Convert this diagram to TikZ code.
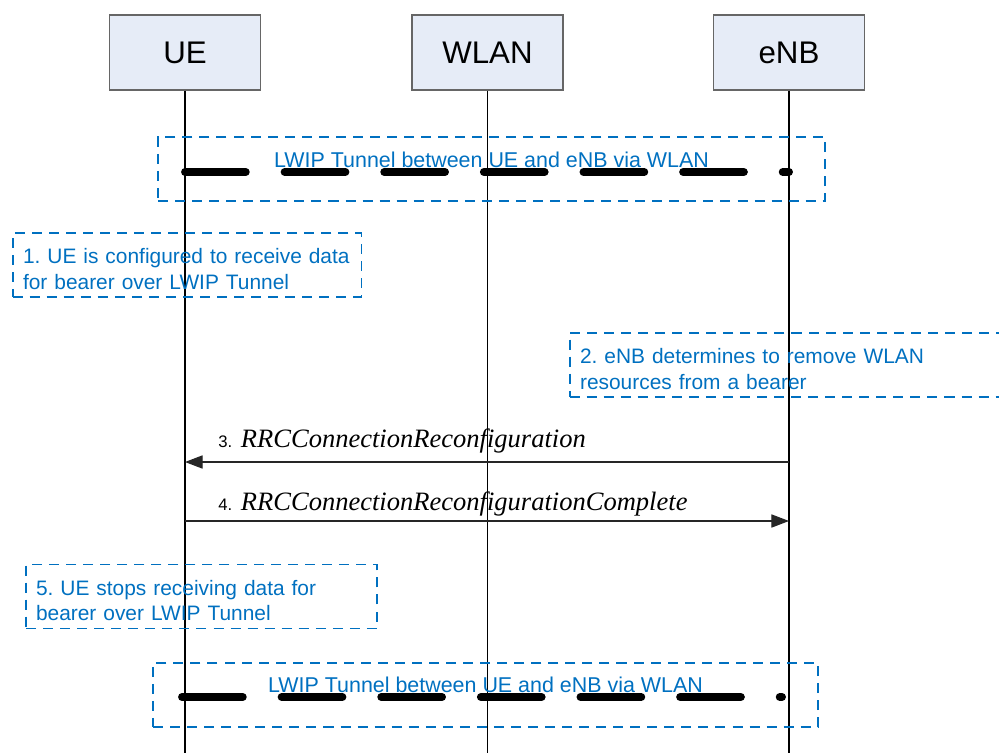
\documentclass[tikz,border=0pt]{standalone}
\usepackage{fontspec}
\setmainfont{Liberation Sans}
\newfontfamily\msgfont{Liberation Serif}
\usepackage{tikz}
\usetikzlibrary{positioning, arrows.meta}
\definecolor{lwipblue}{HTML}{0070C0}
\definecolor{entityfill}{HTML}{E6ECF7}
\newcommand{\rrcmsg}[1]{{\msgfont\itshape\fontsize{15.1}{17}\selectfont #1}}
\frenchspacing

\begin{document}
\begin{tikzpicture}[x=0.02cm, y=-0.02cm, >={Triangle[length=10pt, width=7.5pt]},
    entity/.style={draw=black!60, fill=entityfill, line width=0.8pt, minimum width=3.02cm, minimum height=1.5cm, font=\fontsize{17.8}{20}\selectfont},
    lifeline/.style={line width=0.6pt},
    tunnelbox/.style={draw=lwipblue, line width=1.1pt, dash pattern=on 5.7pt off 4pt, minimum height=1.28cm},
    tunneltext/.style={text=lwipblue, inner sep=0pt, font=\fontsize{12.2}{14}\selectfont},
    tunnelline/.style={line width=4.5pt, line cap=round, dash pattern=on 34.6pt off 22.1pt},
    notebox/.style={draw=lwipblue, line width=1.1pt, dash pattern=on 5.7pt off 4pt, text=lwipblue, align=left, inner xsep=0.21cm, minimum height=1.28cm, font=\fontsize{11.9}{14.7}\selectfont, execute at begin node=\rule{0pt}{13.2pt}},
    msg/.style={->, line width=0.6pt, draw=black!85},
    msglabel/.style={anchor=base west, inner sep=0pt, font=\fontsize{9.5}{12}\selectfont}]
    \clip (0,0) rectangle (999,753);

    % entities and lifelines
    \node[entity] (ue)   at (185,52.5) {UE};
    \node[entity] (wlan) at (487.5,52.5) {WLAN};
    \node[entity] (enb)  at (789,52.5) {eNB};
    \coordinate (ue-end)   at (ue.south |- 0,753);
    \coordinate (wlan-end) at (wlan.south |- 0,753);
    \coordinate (enb-end)  at (enb.south |- 0,753);
    \draw[lifeline] (ue.south) -- (ue-end);
    \draw[lifeline] (wlan.south) -- (wlan-end);
    \draw[lifeline] (enb.south) -- (enb-end);

    % LWIP tunnel (before)
    \node[tunnelbox, minimum width=13.34cm] (tun1) at (491.5,169) {};
    \coordinate (tun1-ue)  at (ue.south |- 0,172);
    \coordinate (tun1-enb) at (enb.south |- 0,172);
    \draw[tunnelline] (tun1-ue) -- (tun1-enb);
    \node[tunneltext] (tun1-text) at (491.5,160) {LWIP Tunnel between UE and eNB via WLAN};

    % steps 1 and 2
    \node[notebox, text width=6.56cm] (step1) at (187,265)
        {1. UE is configured to receive data\\for bearer over LWIP Tunnel};
    \node[notebox, text width=8.76cm] (step2) at (799,365)
        {2. eNB determines to remove WLAN\\resources from a bearer};

    % RRC messages
    \coordinate (m3-from) at (enb.south |- 0,462);
    \coordinate (m3-to)   at (ue.south |- 0,462);
    \draw[msg] (m3-from) -- (m3-to);
    \node[msglabel] (m3-text) at (218,447) {3. \hspace{2.3pt}\rrcmsg{RRCConnectionReconfiguration}};
    \coordinate (m4-from) at (ue.south |- 0,521);
    \coordinate (m4-to)   at (enb.south |- 0,521);
    \draw[msg] (m4-from) -- (m4-to);
    \node[msglabel] (m4-text) at (218,510) {4. \hspace{2.3pt}\rrcmsg{RRCConnectionReconfigurationComplete}};

    % step 5
    \node[notebox, text width=6.62cm, inner xsep=0.2cm] (step5) at (201.5,596.5)
        {5. UE stops receiving data for\\bearer over LWIP Tunnel};

    % LWIP tunnel (after)
    \node[tunnelbox, minimum width=13.3cm] (tun2) at (485.5,695) {};
    \coordinate (tun2-ue)  at (182,697);
    \coordinate (tun2-enb) at (782,697);
    \draw[tunnelline] (tun2-ue) -- (tun2-enb);
    \node[tunneltext] (tun2-text) at (485.5,685) {LWIP Tunnel between UE and eNB via WLAN};
\end{tikzpicture}
\end{document}
